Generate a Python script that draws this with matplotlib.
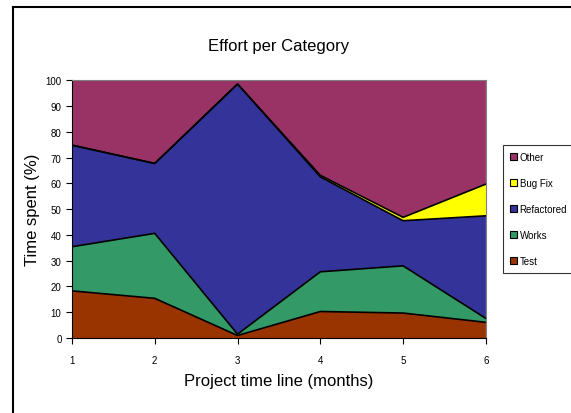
import numpy as np
import matplotlib
matplotlib.use('Agg')
from matplotlib import pyplot as plt
from matplotlib.lines import Line2D
from matplotlib.patches import Patch

plt.rcParams['font.family'] = ['Liberation Sans', 'DejaVu Sans']

months = [1, 2, 3, 4, 5, 6]
test = [18.3, 15.4, 1.0, 10.3, 9.7, 6.1]
works = [17.1, 25.2, 0.5, 15.4, 18.3, 1.5]
refactored = [39.4, 27.1, 97.0, 36.8, 17.5, 39.8]
bug_fix = [0.0, 0.0, 0.0, 0.6, 1.3, 12.3]
other = [100 - a - b - c - d for a, b, c, d in zip(test, works, refactored, bug_fix)]

names = ['Test', 'Works', 'Refactored', 'Bug Fix', 'Other']
colors = ['#993300', '#339966', '#333399', '#FFFF00', '#993366']

fig = plt.figure(figsize=(5.71, 4.14), dpi=100)
ax = fig.add_axes([0.126, 0.181, 0.725, 0.623])

series = [test, works, refactored, bug_fix, other]
base = np.zeros(len(months))
for vals, c in zip(series, colors):
    top = base + np.array(vals)
    ax.fill_between(months, base, top, facecolor=c, edgecolor='none')
    ax.plot(months, top, color='black', lw=1.2)
    base = top

ax.set_xlim(1, 6)
ax.set_ylim(0, 100)
ax.set_xticks(months)
ax.set_yticks(range(0, 101, 10))
ax.tick_params(labelsize=7, length=4, direction='out', width=0.8)
ax.tick_params(axis='x', pad=8)
ax.set_xlabel('Project time line (months)', fontsize=12, labelpad=6)
ax.set_ylabel('Time spent (%)', fontsize=12, labelpad=4)
ax.set_title('Effort per Category', fontsize=12, pad=22)
for s in ['top', 'right']:
    ax.spines[s].set_color('#808080')
    ax.spines[s].set_linewidth(0.8)

handles = [Patch(facecolor=c, edgecolor='black', linewidth=0.8) for c in colors][::-1]
leg = ax.legend(handles, names[::-1], loc='center left', bbox_to_anchor=(1.03, 0.5),
                fontsize=7, frameon=True, fancybox=False, edgecolor='black',
                handlelength=0.7, handleheight=0.7, handletextpad=0.3,
                labelspacing=1.65, borderpad=0.7)
leg.get_frame().set_linewidth(0.8)

fig.add_artist(Line2D([13 / 571, 13 / 571], [0, 1 - 8 / 414], color='black', lw=1.5))
fig.add_artist(Line2D([13 / 571, 1], [1 - 8 / 414, 1 - 8 / 414], color='black', lw=1.5))

plt.savefig('out.png', dpi=100)
